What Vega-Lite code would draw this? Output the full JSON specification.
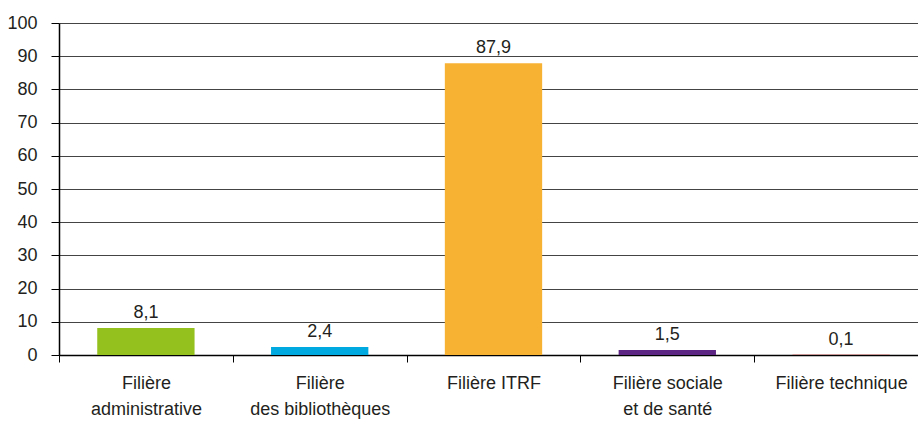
{
  "$schema": "https://vega.github.io/schema/vega-lite/v6.json",
  "autosize": {"type": "none"},
  "width": 859,
  "height": 332,
  "padding": {"left": 59, "top": 23, "right": 0, "bottom": 66},
  "background": "white",
  "config": {
    "locale": {"number": {"decimal": ",", "thousands": " ", "grouping": [3], "currency": ["", " €"]}},
    "view": {"stroke": null},
    "font": "Liberation Sans",
    "axis": {"labelFont": "Liberation Sans", "labelColor": "#231f20"}
  },
  "data": {
    "values": [
      {"filiere": "Filière\nadministrative", "valeur": 8.1, "couleur": "#95c11f"},
      {"filiere": "Filière\ndes bibliothèques", "valeur": 2.4, "couleur": "#00a9e0"},
      {"filiere": "Filière ITRF", "valeur": 87.9, "couleur": "#f7b234"},
      {"filiere": "Filière sociale\net de santé", "valeur": 1.5, "couleur": "#5c2483"},
      {"filiere": "Filière technique", "valeur": 0.1, "couleur": "#e2231a"}
    ]
  },
  "encoding": {
    "x": {
      "field": "filiere",
      "type": "nominal",
      "sort": null,
      "scale": {"paddingInner": 0, "paddingOuter": 0, "range": [0, 869]},
      "axis": {
        "title": null,
        "labelAngle": 0,
        "labelExpr": "split(datum.label, '\\n')",
        "labelFontSize": 18,
        "labelLineHeight": 26,
        "labelPadding": 12,
        "tickBand": "extent",
        "tickSize": 7,
        "tickColor": "#000",
        "domainColor": "#000",
        "domainWidth": 1.5,
        "grid": false
      }
    },
    "y": {
      "field": "valeur",
      "type": "quantitative",
      "scale": {"domain": [0, 100], "nice": false},
      "axis": {
        "title": null,
        "values": [0, 10, 20, 30, 40, 50, 60, 70, 80, 90, 100],
        "format": "d",
        "labelFontSize": 18,
        "labelPadding": 14,
        "tickSize": 8,
        "tickColor": "#000",
        "domainColor": "#000",
        "domainWidth": 1.5,
        "grid": true,
        "gridColor": "#444",
        "gridWidth": 1
      }
    }
  },
  "layer": [
    {
      "mark": {"type": "bar", "width": {"band": 0.56}},
      "encoding": {"color": {"field": "couleur", "type": "nominal", "scale": null}}
    },
    {
      "mark": {"type": "text", "baseline": "alphabetic", "dy": -10, "fontSize": 18, "color": "#231f20"},
      "encoding": {"text": {"field": "valeur", "type": "quantitative", "format": ".1f"}}
    }
  ]
}
